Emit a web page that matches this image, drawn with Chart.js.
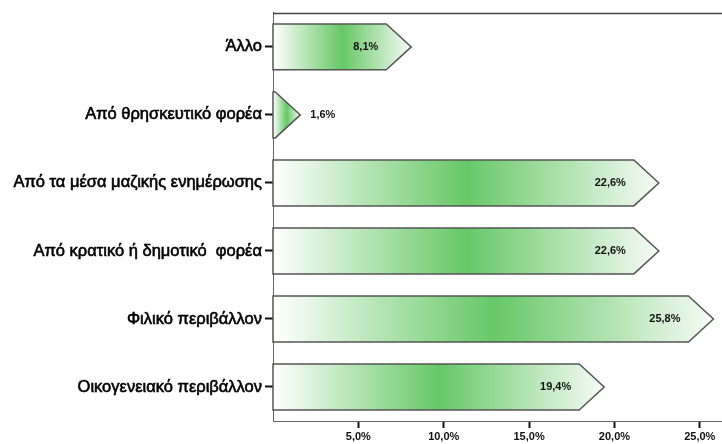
<!DOCTYPE html>
<html>
<head>
<meta charset="utf-8">
<script src="https://cdn.jsdelivr.net/npm/chart.js@4/dist/chart.umd.min.js"></script>
<style>
html,body{margin:0;padding:0;background:#fff;}
#wrap{width:722px;height:444px;position:relative;}
</style>
</head>
<body>
<div id="wrap"><canvas id="c" width="722" height="444"></canvas></div>
<script>
const categories = ["Άλλο", "Από θρησκευτικό φορέα", "Από τα μέσα μαζικής ενημέρωσης", "Από κρατικό ή δημοτικό  φορέα", "Φιλικό περιβάλλον", "Οικογενειακό περιβάλλον"];
const values = [8.1, 1.6, 22.6, 22.6, 25.8, 19.4];
const xTicks = [5, 10, 15, 20, 25];

const fmt = v => v.toFixed(1).replace('.', ',') + '%';

const arrowPlugin = {
  id: 'arrows',
  afterDatasetsDraw(chart) {
    const ctx = chart.ctx;
    const meta = chart.getDatasetMeta(0);
    const area = chart.chartArea;
    ctx.save();
    // top frame line
    ctx.strokeStyle = '#444';
    ctx.lineWidth = 1.5;
    ctx.beginPath();
    ctx.moveTo(area.left, area.top + 0.5);
    ctx.lineTo(chart.width, area.top + 0.5);
    ctx.stroke();
    meta.data.forEach((bar, i) => {
      const p = bar.getProps(['x', 'y', 'base', 'height'], true);
      const x0 = p.base, x1 = p.x, h = p.height;
      const top = p.y - h / 2, bot = p.y + h / 2;
      const head = Math.min(25, x1 - x0);
      const g = ctx.createLinearGradient(x0, 0, x1, 0);
      g.addColorStop(0, '#ffffff');
      g.addColorStop(0.5, '#66c866');
      g.addColorStop(1, '#f6fbf6');
      ctx.beginPath();
      ctx.moveTo(x0, top);
      ctx.lineTo(x1 - head, top);
      ctx.lineTo(x1, p.y);
      ctx.lineTo(x1 - head, bot);
      ctx.lineTo(x0, bot);
      ctx.closePath();
      ctx.fillStyle = g;
      ctx.fill();
      ctx.strokeStyle = '#555';
      ctx.lineWidth = 1.5;
      ctx.stroke();
      ctx.fillStyle = '#111';
      ctx.font = 'bold 11px "Liberation Sans", Arial, sans-serif';
      ctx.textBaseline = 'middle';
      const txt = fmt(values[i]);
      if (x1 - x0 > 70) {
        ctx.textAlign = 'right';
        ctx.fillText(txt, x1 - 33, p.y);
      } else {
        ctx.textAlign = 'left';
        ctx.fillText(txt, x1 + 10, p.y);
      }
    });
    ctx.restore();
  }
};

new Chart(document.getElementById('c'), {
  type: 'bar',
  data: {
    labels: categories,
    datasets: [{
      data: values,
      backgroundColor: 'rgba(0,0,0,0)',
      borderWidth: 0,
      categoryPercentage: 1,
      barPercentage: 0.675
    }]
  },
  options: {
    indexAxis: 'y',
    responsive: false,
    animation: false,
    devicePixelRatio: 1,
    layout: { padding: { top: 12, right: 0, left: 0, bottom: 0 } },
    plugins: { legend: { display: false }, tooltip: { enabled: false } },
    scales: {
      x: {
        min: 0,
        max: 26.3,
        afterBuildTicks(scale) { scale.ticks = xTicks.map(v => ({ value: v })); },
        afterFit(scale) { scale.height = 23; },
        border: { display: true, color: '#666', width: 1 },
        grid: { drawOnChartArea: false, drawTicks: true, tickLength: 7, tickColor: '#111', tickWidth: 2 },
        ticks: {
          padding: 2,
          color: '#111',
          font: { family: '"Liberation Sans", Arial, sans-serif', size: 11, weight: 'bold' },
          callback: v => fmt(v),
          maxRotation: 0
        }
      },
      y: {
        afterFit(scale) { scale.width = 273; },
        border: { display: true, color: '#666', width: 1 },
        grid: { offset: false, drawOnChartArea: false, drawTicks: true, tickLength: 8, tickColor: '#111', tickWidth: 2 },
        ticks: {
          padding: 3,
          color: '#000',
          textStrokeColor: '#000',
          textStrokeWidth: 0.6,
          font: { family: '"Liberation Sans", Arial, sans-serif', size: 16.5 }
        }
      }
    }
  },
  plugins: [arrowPlugin]
});
</script>
</body>
</html>
